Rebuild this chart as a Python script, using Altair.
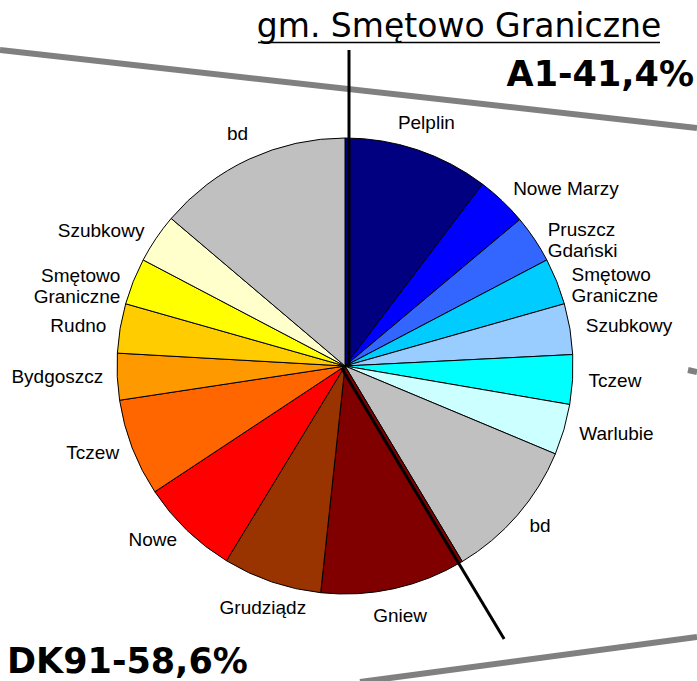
import altair as alt
import pandas as pd

# ---- data ----
labels = ["Pelplin", "Nowe Marzy", "Pruszcz\nGdański", "Smętowo\nGraniczne", "Szubkowy",
          "Tczew", "Warlubie", "bd",
          "Gniew", "Grudziądz", "Nowe", "Tczew", "Bydgoszcz", "Rudno",
          "Smętowo\nGraniczne", "Szubkowy", "bd"]
values = [10.3, 3.6, 3.4, 3.3, 3.6, 3.5, 3.6, 10.1,
          10.3, 7.0, 7.0, 6.9, 3.3, 3.5, 3.3, 3.5, 13.8]
colors = ["#000080", "#0000FF", "#3366FF", "#00CCFF", "#99CCFF", "#00FFFF", "#CCFFFF", "#C0C0C0",
          "#800000", "#993300", "#FF0000", "#FF6600", "#FF9900", "#FFCC00", "#FFFF00", "#FFFFCC", "#C0C0C0"]
title_text = "gm. Smętowo Graniczne"
a1_text = "A1-41,4%"
dk_text = "DK91-58,6%"
a1_share = 41.4

keys = [f"k{i:02d}" for i in range(len(labels))]
df = pd.DataFrame({"idx": list(range(len(labels))), "key": keys, "label": labels, "value": values})

CX, CY, R = 345, 366, 228

base = alt.Chart(df)

pie = base.mark_arc(radius=R, x=CX, y=CY, stroke="black", strokeWidth=1).encode(
    theta=alt.Theta("value:Q", stack=True),
    color=alt.Color("key:N", scale=alt.Scale(domain=keys, range=colors), legend=None),
    order=alt.Order("idx:Q"),
)

lab_base = base.transform_window(
    cum="sum(value)", sort=[alt.SortField("idx")], frame=[None, 0]
).transform_calculate(
    mid="datum.cum - datum.value/2",
    s="sin(2*PI*(datum.cum - datum.value/2)/100)",
)

def lab_layer(filt, align, radius):
    return lab_base.transform_filter(filt).mark_text(
        radius=radius, x=CX, y=CY, align=align, baseline="middle",
        font="Liberation Sans", fontSize=19, color="black", lineBreak="\n",
    ).encode(
        theta=alt.Theta("mid:Q", scale=alt.Scale(domain=[0, 100]), stack=False),
        text="label:N",
    )

lab_r = lab_layer("datum.s >= 0.5", "left", 244)
lab_l = lab_layer("datum.s <= -0.5", "right", 242)
lab_c = lab_layer("abs(datum.s) < 0.5", "center", 256)

# split line between A1 and DK91 parts (slightly offset clockwise of the boundary)
split_df = pd.DataFrame({"share": [0.0, a1_share]})
split = alt.Chart(split_df).transform_calculate(
    a="2*PI*datum.share/100",
).transform_calculate(
    x1=f"{CX} + 4*cos(datum.a)",
    y1=f"{CY} + 4*sin(datum.a)",
    x2=f"{CX} + 4*cos(datum.a) + 316*sin(datum.a)",
    y2=f"{CY} + 4*sin(datum.a) - 316*cos(datum.a)",
).mark_rule(color="black", strokeWidth=3).encode(
    x=alt.X("x1:Q", scale=None), y=alt.Y("y1:Q", scale=None),
    x2="x2:Q", y2="y2:Q",
)

dummy = pd.DataFrame({"a": [0]})
gray = "#808080"
line_top = alt.Chart(dummy).mark_rule(color=gray, strokeWidth=6).encode(
    x=alt.value(0), y=alt.value(50), x2=alt.value(697), y2=alt.value(128))
line_bot = alt.Chart(dummy).mark_rule(color=gray, strokeWidth=6).encode(
    x=alt.value(360), y=alt.value(682), x2=alt.value(697), y2=alt.value(637))
line_r = alt.Chart(dummy).mark_rule(color=gray, strokeWidth=6).encode(
    x=alt.value(688), y=alt.value(370), x2=alt.value(697), y2=alt.value(372))

title = alt.Chart(dummy).mark_text(
    font="DejaVu Sans", fontSize=33, align="center", baseline="alphabetic", color="black"
).encode(x=alt.value(459), y=alt.value(37), text=alt.value(title_text))
underline = alt.Chart(dummy).mark_rule(color="black", strokeWidth=1.5).encode(
    x=alt.value(258), y=alt.value(42.5), x2=alt.value(660), y2=alt.value(42.5))
a1 = alt.Chart(dummy).mark_text(
    font="DejaVu Sans", fontWeight="bold", fontSize=35, align="right", baseline="alphabetic", color="black"
).encode(x=alt.value(694), y=alt.value(86), text=alt.value(a1_text))
dk = alt.Chart(dummy).mark_text(
    font="DejaVu Sans", fontWeight="bold", fontSize=35, align="left", baseline="alphabetic", color="black"
).encode(x=alt.value(7), y=alt.value(673), text=alt.value(dk_text))

chart = alt.layer(
    line_top, line_bot, line_r, pie, split, lab_r, lab_l, lab_c, title, underline, a1, dk
).resolve_scale(theta="independent", color="independent").properties(
    width=697, height=681, autosize=alt.AutoSizeParams(type="none"), padding=0,
).configure_view(stroke=None)

chart.save("out.html", embed_options={"renderer": "svg", "actions": False})
